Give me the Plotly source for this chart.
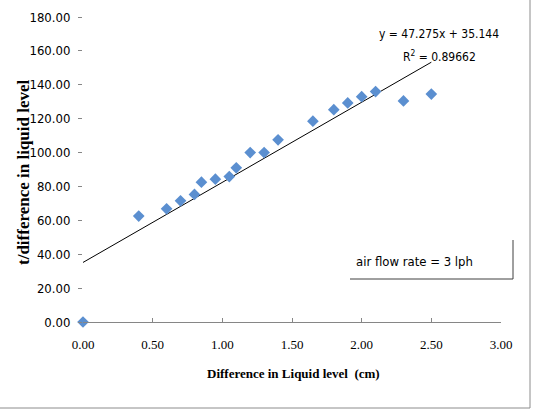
import plotly.graph_objects as go

# ---- data ----
x_diff = [0.00, 0.40, 0.60, 0.70, 0.80, 0.85, 0.95, 1.05, 1.10, 1.20, 1.30, 1.40,
          1.65, 1.80, 1.90, 2.00, 2.10, 2.30, 2.50]
y_ratio = [0.0, 62.5, 66.8, 71.5, 75.3, 82.5, 84.3, 85.8, 91.0, 100.0, 100.0, 107.5,
           118.5, 125.3, 129.3, 133.0, 136.0, 130.5, 134.5]
slope = 47.275
intercept = 35.144
r2 = 0.89662
x_ticks = [0, 0.5, 1.0, 1.5, 2.0, 2.5, 3.0]
y_ticks = [0, 20, 40, 60, 80, 100, 120, 140, 160, 180]

W, H = 535, 414
L, R, T, B = 83, 34, 17, 92
PW, PH = W - L - R, H - T - B


def px(xp):
    return (xp - L) / PW


def py(yp):
    return (H - B - yp) / PH


trend_x = [min(x_diff), max(x_diff)]
trend_y = [slope * v + intercept for v in trend_x]

narrow = "DejaVu Sans Condensed, Liberation Sans, sans-serif"
serif = "Liberation Serif, Times New Roman, serif"


def note(xp, yp, text, font, **kw):
    d = dict(x=px(xp), y=py(yp), xref="paper", yref="paper", text=text,
             showarrow=False, xanchor="center", yanchor="middle", font=font)
    d.update(kw)
    return d


fig = go.Figure()
fig.add_trace(go.Scatter(x=trend_x, y=trend_y, mode="lines",
                         line=dict(color="black", width=1), hoverinfo="skip",
                         showlegend=False))
fig.add_trace(go.Scatter(x=x_diff, y=y_ratio, mode="markers",
                         marker=dict(symbol="diamond", size=9, color="#5B8FD0"),
                         cliponaxis=False, showlegend=False))

fig.update_layout(
    width=W, height=H,
    margin=dict(l=L, r=R, t=T, b=B, autoexpand=False),
    paper_bgcolor="white", plot_bgcolor="white",
    xaxis=dict(range=[0, 3], tickvals=x_ticks,
               ticktext=[f"{v:.2f}" for v in x_ticks],
               showgrid=False, zeroline=False, showline=True,
               linecolor="#868686", linewidth=1, automargin=False,
               ticks="inside", ticklen=4, tickcolor="#868686",
               tickfont=dict(family=serif, size=13, color="black"),
               ticklabelstandoff=10),
    yaxis=dict(range=[0, 180], tickvals=y_ticks,
               ticktext=[f"{v:.2f}" for v in y_ticks],
               showgrid=False, zeroline=False, showline=False, automargin=False,
               ticks="outside", ticklen=4, tickcolor="#868686",
               tickfont=dict(family=narrow, size=13, color="black"),
               ticklabelstandoff=5),
    annotations=[
        note(293, 373, "<b>Difference in Liquid level  (cm)</b>",
             dict(family=serif, size=13, color="black")),
        note(23, 172, "<b>t/difference in liquid level</b>",
             dict(family=serif, size=17, color="black"), textangle=-90),
        note(439, 34, f"y = {slope}x + {intercept}",
             dict(family=narrow, size=12, color="black")),
        note(439, 56, f"R<sup>2</sup> = {r2}",
             dict(family=narrow, size=12, color="black")),
        note(414, 261, "air flow rate = 3 lph",
             dict(family=narrow, size=13, color="black")),
    ],
    shapes=[
        dict(type="line", xref="paper", yref="paper",
             x0=px(513), x1=px(513), y0=py(240), y1=py(279),
             line=dict(color="#404040", width=1)),
        dict(type="line", xref="paper", yref="paper",
             x0=px(350), x1=px(513), y0=py(279), y1=py(279),
             line=dict(color="#404040", width=1)),
        dict(type="line", xref="paper", yref="paper",
             x0=px(530), x1=px(530), y0=py(0), y1=py(408),
             line=dict(color="#8c8c8c", width=1)),
        dict(type="line", xref="paper", yref="paper",
             x0=px(0), x1=px(530), y0=py(408), y1=py(408),
             line=dict(color="#8c8c8c", width=1)),
    ],
)

fig.write_html("out.html")
